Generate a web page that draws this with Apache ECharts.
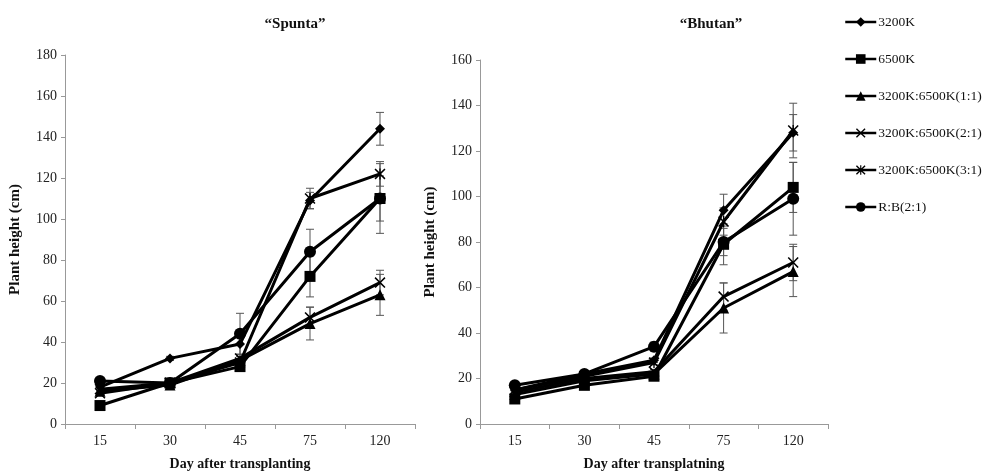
<!DOCTYPE html>
<html>
<head>
<meta charset="utf-8">
<script src="https://cdn.jsdelivr.net/npm/echarts@6/dist/echarts.min.js"></script>
<style>html,body{margin:0;padding:0;background:#fff}#c{width:990px;height:476px}</style>
</head>
<body>
<div id="c"></div>
<script>
var days = ['15','30','45','75','120'];
var seriesNames = ['3200K','6500K','3200K:6500K(1:1)','3200K:6500K(2:1)','3200K:6500K(3:1)','R:B(2:1)'];

var spunta3200 = [18, 32, 39, 109, 144];
var spunta6500 = [9, 20, 28, 72, 110];
var spunta11 = [16, 19, 31, 49, 63];
var spunta21 = [15, 20, 32, 52, 69];
var spunta31 = [17, 20, 30, 110, 122];
var spuntaRB = [21, 20, 44, 84, 110];

var spuntaErr3200 = [1, 1, 5, 4, 8];
var spuntaErr6500 = [1, 1, 2, 10, 17];
var spuntaErr11 = [1, 1, 2, 8, 10];
var spuntaErr21 = [1, 1, 2, 5, 6];
var spuntaErr31 = [1, 1, 2, 5, 6];
var spuntaErrRB = [1, 1, 10, 11, 11];

var bhutan3200 = [15, 22, 28, 94, 128];
var bhutan6500 = [11, 17, 21, 79, 104];
var bhutan11 = [13, 19, 22, 51, 67];
var bhutan21 = [14, 20, 23, 56, 71];
var bhutan31 = [15, 21, 27, 89, 129];
var bhutanRB = [17, 22, 34, 80, 99];

var bhutanErr3200 = [1, 1, 1, 7, 8];
var bhutanErr6500 = [1, 1, 1, 9, 11];
var bhutanErr11 = [1, 1, 1, 11, 11];
var bhutanErr21 = [1, 1, 1, 6, 8];
var bhutanErr31 = [1, 1, 1, 6, 12];
var bhutanErrRB = [1, 1, 2, 6, 16];

var spuntaVals = [spunta3200, spunta6500, spunta11, spunta21, spunta31, spuntaRB];
var spuntaErrs = [spuntaErr3200, spuntaErr6500, spuntaErr11, spuntaErr21, spuntaErr31, spuntaErrRB];
var bhutanVals = [bhutan3200, bhutan6500, bhutan11, bhutan21, bhutan31, bhutanRB];
var bhutanErrs = [bhutanErr3200, bhutanErr6500, bhutanErr11, bhutanErr21, bhutanErr31, bhutanErrRB];

var crossPath = 'path://M0,1 L1,0 L5,4 L9,0 L10,1 L6,5 L10,9 L9,10 L5,6 L1,10 L0,9 L4,5 Z';
var starPath = 'path://M0,1 L1,0 L5,4 L9,0 L10,1 L6,5 L10,9 L9,10 L5,6 L1,10 L0,9 L4,5 Z M4.4,0 L5.6,0 L5.6,10 L4.4,10 Z';
var symbols = ['diamond', 'rect', 'triangle', crossPath, starPath, 'circle'];
var sizes = [10, 11, 11, 11, 11, 12];

var font = 'Liberation Serif';

function errSeries(vals, errs, idx) {
  var data = [];
  vals.forEach(function (v, s) {
    v.forEach(function (y, i) { data.push([i, y - errs[s][i], y + errs[s][i]]); });
  });
  return {
    type: 'custom', xAxisIndex: idx, yAxisIndex: idx, z: 1, silent: true,
    renderItem: function (params, api) {
      var lo = api.coord([api.value(0), api.value(1)]);
      var hi = api.coord([api.value(0), api.value(2)]);
      var w = 4;
      var st = { stroke: '#555', lineWidth: 1 };
      return { type: 'group', children: [
        { type: 'line', shape: { x1: lo[0], y1: lo[1], x2: hi[0], y2: hi[1] }, style: st },
        { type: 'line', shape: { x1: lo[0] - w, y1: lo[1], x2: lo[0] + w, y2: lo[1] }, style: st },
        { type: 'line', shape: { x1: hi[0] - w, y1: hi[1], x2: hi[0] + w, y2: hi[1] }, style: st }
      ]};
    },
    data: data
  };
}

function lineSeries(vals, idx) {
  return vals.map(function (v, s) {
    return {
      name: seriesNames[s], type: 'line', xAxisIndex: idx, yAxisIndex: idx, z: 3,
      data: v, symbol: symbols[s], symbolSize: sizes[s], showAllSymbol: true,
      lineStyle: { color: '#000', width: 3 },
      itemStyle: { color: '#000' }
    };
  });
}

function xAxis(idx, name) {
  return {
    type: 'category', gridIndex: idx, data: days, boundaryGap: true,
    axisLine: { lineStyle: { color: '#999' } },
    axisTick: { show: true, length: 5, lineStyle: { color: '#999' } },
    axisLabel: { color: '#222', fontFamily: font, fontSize: 14, margin: 10 },
    name: name, nameLocation: 'middle', nameGap: 33,
    nameTextStyle: { color: '#111', fontFamily: font, fontSize: 14, fontWeight: 'bold' }
  };
}
function yAxis(idx, max) {
  return {
    type: 'value', gridIndex: idx, min: 0, max: max, interval: 20,
    splitLine: { show: false },
    axisLine: { show: true, lineStyle: { color: '#999' } },
    axisTick: { show: true, length: 4, lineStyle: { color: '#999' } },
    axisLabel: { color: '#222', fontFamily: font, fontSize: 14, margin: 8 },
    name: 'Plant height (cm)', nameLocation: 'middle', nameGap: 42, nameRotate: 90,
    nameTextStyle: { color: '#111', fontFamily: font, fontSize: 15, fontWeight: 'bold' }
  };
}

var chart = echarts.init(document.getElementById('c'), null, { renderer: 'canvas' });
chart.setOption({
  backgroundColor: '#fff',
  animation: false,
  title: [
    { text: '\u201cSpunta\u201d', left: 290, top: 12, textAlign: 'center',
      textStyle: { fontFamily: font, fontSize: 15, fontWeight: 'bold', color: '#111' } },
    { text: '\u201cBhutan\u201d', left: 706, top: 12, textAlign: 'center',
      textStyle: { fontFamily: font, fontSize: 15, fontWeight: 'bold', color: '#111' } }
  ],
  legend: {
    data: seriesNames, orient: 'vertical', left: 839, top: 10, itemGap: 23,
    itemWidth: 31, itemHeight: 12,
    lineStyle: { width: 2.5 },
    textStyle: { fontFamily: font, fontSize: 13.5, color: '#111', padding: [0, 0, 0, -3] }
  },
  grid: [
    { left: 65, top: 55, width: 350, height: 370 },
    { left: 480, top: 60, width: 348, height: 368 }
  ],
  xAxis: [xAxis(0, 'Day after transplanting'), xAxis(1, 'Day after transplatning')],
  yAxis: [yAxis(0, 180), yAxis(1, 160)],
  series: [].concat(
    [errSeries(spuntaVals, spuntaErrs, 0), errSeries(bhutanVals, bhutanErrs, 1)],
    lineSeries(spuntaVals, 0),
    lineSeries(bhutanVals, 1)
  )
});
</script>
</body>
</html>
